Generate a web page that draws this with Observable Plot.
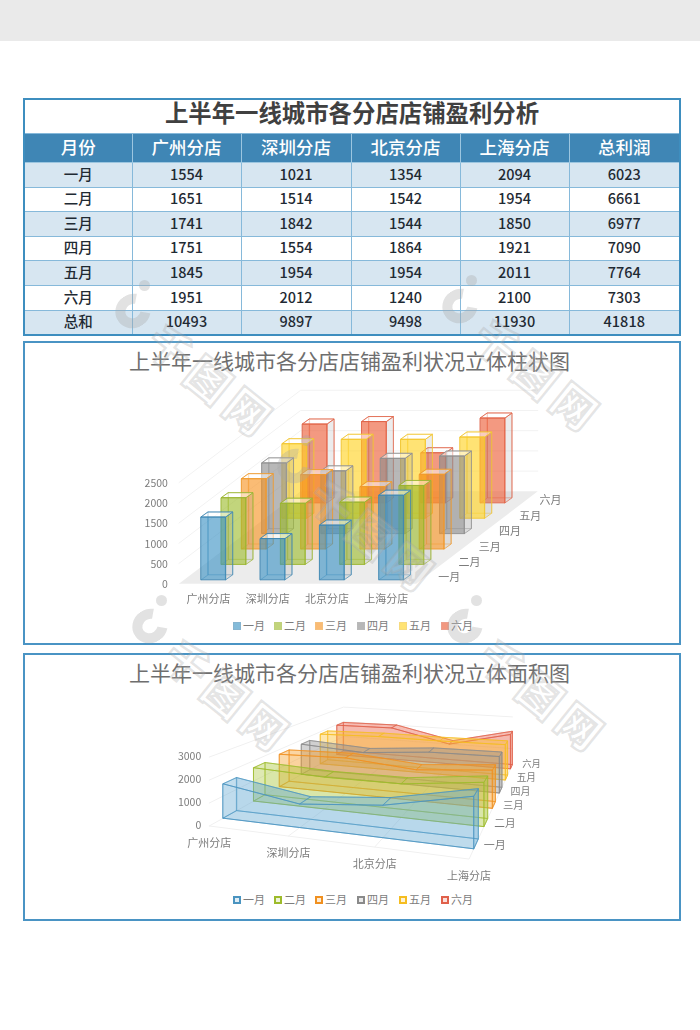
<!DOCTYPE html>
<html lang="zh">
<head>
<meta charset="utf-8">
<script src="https://cdn.jsdelivr.net/npm/d3@7"></script>
<script src="https://cdn.jsdelivr.net/npm/@observablehq/plot@0.6"></script>
<style>
html,body{margin:0;padding:0;background:#fff;}
body{width:700px;height:1030px;position:relative;overflow:hidden;font-family:"Noto Sans CJK SC","Noto Sans",sans-serif;}
#band{position:absolute;left:0;top:0;width:700px;height:41px;background:#eaeaea;}
#table{position:absolute;left:23px;top:98px;width:656px;border-collapse:collapse;table-layout:fixed;border:2px solid #3e8ebf;}
#table td,#table th{border:1px solid #86b9da;padding:0;text-align:center;line-height:1;font-size:14.5px;font-weight:500;color:#1f2a33;}
#table .ttl{height:25px;padding-bottom:8px;font-size:23.4px;font-weight:700;color:#404040;background:#fff;}
#table .hd th{height:25px;padding-bottom:3px;background:#3f86b5;color:#fff;font-size:17.5px;font-weight:500;border-color:#9cc6e0;border-top:none;}
#table tr.row td{height:21.6px;padding-bottom:2px;}
#table tr.odd td{background:#d7e6f1;}
.panel{position:absolute;left:23px;width:658px;box-sizing:border-box;border:2px solid #4a94c4;}
.ctitle{position:absolute;left:21px;width:657px;text-align:center;font-size:21px;line-height:1;font-weight:400;color:#6e6e6e;}
.plotbox{position:absolute;left:23px;}
.plotbox svg{display:block;background:transparent;filter:blur(.35px);}
.legend span.it{position:absolute;font-size:11px;line-height:1;color:#7c7c7c;padding-left:10px;white-space:nowrap;}
.legend i{position:absolute;left:0;top:1.5px;width:8px;height:8px;box-sizing:border-box;}
.wm{position:absolute;pointer-events:none;}
.wm .t{position:absolute;left:-95px;top:-32px;width:190px;height:64px;line-height:64px;text-align:center;font-size:43px;font-weight:900;letter-spacing:7px;color:rgba(255,255,255,.1);-webkit-text-stroke:2.4px rgba(165,165,165,.3);transform:rotate(39deg);}
.wm .r{position:absolute;left:-18px;top:-16px;width:36px;height:34px;box-sizing:border-box;border:10px solid rgba(165,165,165,.32);border-right-color:transparent;border-radius:50%;transform:rotate(-35deg);}
.wm .d{position:absolute;left:6px;top:-30px;width:11px;height:11px;border-radius:50%;background:rgba(165,165,165,.32);}
</style>
</head>
<body>
<div id="band"></div>
<div id="tbl"></div>
<div class="panel" style="top:341px;height:304px"></div>
<div class="ctitle" style="top:350px">上半年一线城市各分店店铺盈利状况立体柱状图</div>
<div class="plotbox" id="bars" style="top:341px"></div>
<div class="legend" id="leg1"></div>
<div class="panel" style="top:653px;height:268px"></div>
<div class="ctitle" style="top:662px">上半年一线城市各分店店铺盈利状况立体面积图</div>
<div class="plotbox" id="areas" style="top:653px"></div>
<div class="legend" id="leg2"></div>
<div id="marks"></div>
<script>
// ---------- data ----------
const pageTitle = "上半年一线城市各分店店铺盈利分析";
const months = ["一月","二月","三月","四月","五月","六月"];
const stores = ["广州分店","深圳分店","北京分店","上海分店"];
const guangzhou = [1554,1651,1741,1751,1845,1951];
const shenzhen  = [1021,1514,1842,1554,1954,2012];
const beijing   = [1354,1542,1544,1864,1954,1240];
const shanghai  = [2094,1954,1850,1921,2011,2100];
const monthTotal = [6023,6661,6977,7090,7764,7303];
const storeTotal = [10493,9897,9498,11930,41818];
const barTicks = [0,500,1000,1500,2000,2500];
const areaTicks = [0,1000,2000,3000];
const seriesColors = ["#3a92c3","#9dbb2b","#f79320","#8c8c8c","#ffd21e","#eb5a33"];
const seriesStrokes = ["#3f87b3","#9ab52f","#ef9a2e","#8f8f8f","#f2c530","#e0654a"];
const areaColors = ["#5da5d0","#a9c63a","#f59a23","#8f8f8f","#fbc02d","#e8604a"];
const areaStrokes = ["#4a94c0","#9dbb2b","#f09020","#8a8a8a","#f5bd20","#e0604a"];
const columns = [guangzhou,shenzhen,beijing,shanghai];
const val = (i,j) => columns[i][j];

// ---------- table ----------
{
  let h = `<table id="table"><colgroup>${[108,109,110,109,109,111].map(w=>`<col style="width:${w}px">`).join("")}</colgroup>`;
  h += `<tr><td class="ttl" colspan="6">${pageTitle}</td></tr>`;
  h += `<tr class="hd"><th>月份</th>${stores.map(s=>`<th>${s}</th>`).join("")}<th>总利润</th></tr>`;
  months.forEach((m,j)=>{
    h += `<tr class="row ${j%2?"":"odd"}"><td>${m}</td>${stores.map((_,i)=>`<td>${val(i,j)}</td>`).join("")}<td>${monthTotal[j]}</td></tr>`;
  });
  h += `<tr class="row odd"><td>总和</td>${storeTotal.map(v=>`<td>${v}</td>`).join("")}</tr></table>`;
  document.getElementById("tbl").innerHTML = h;
}

// ---------- chart 1: oblique bars ----------
{
  const W=657,H=304;
  // oblique axes, in units of (category, value)
  const stepX=.342, stepY=381, depX=.118, depY=124, barW=.413;
  const X=(i,j,d=0)=>i+stepX*j+depX*d;
  const Y=(v,j,d=0)=>v+stepY*j+depY*d;
  const poly=(rows,o)=>Plot.line(rows,{x:"x",y:"y",z:"id",curve:"linear-closed",...o});
  const quad=(id,pts)=>pts.map(([x,y])=>({id,x,y}));
  const i0=-.29,i1=3.71,j0=-.25,j1=5.75;
  const marks=[];
  marks.push(poly(quad("floor",[[X(i0,j0),Y(0,j0)],[X(i1,j0),Y(0,j0)],[X(i1,j1),Y(0,j1)],[X(i0,j1),Y(0,j1)]]),{fill:"#ececec",stroke:"none"}));
  const wall=barTicks.slice(1).flatMap(v=>[
    {id:"l"+v,x:X(i0,j0),y:Y(v,j0)},{id:"l"+v,x:X(i0,j1),y:Y(v,j1)},{id:"l"+v,x:X(i1,j1),y:Y(v,j1)}
  ]);
  marks.push(Plot.line(wall,{x:"x",y:"y",z:"id",stroke:"#f2f2f2",strokeWidth:1}));
  for(let j=months.length-1;j>=0;j--){
    const back=[],side=[],top=[],front=[];
    stores.forEach((_,i)=>{
      const v=val(i,j),a=i,b=i+barW,id=i+"-"+j;
      back.push(...quad(id+"b",[[X(a,j,1),Y(0,j,1)],[X(b,j,1),Y(0,j,1)],[X(b,j,1),Y(v,j,1)],[X(a,j,1),Y(v,j,1)]]));
      back.push(...quad(id+"l",[[X(a,j,0),Y(0,j,0)],[X(a,j,1),Y(0,j,1)],[X(a,j,1),Y(v,j,1)],[X(a,j,0),Y(v,j,0)]]));
      side.push(...quad(id+"s",[[X(b,j,0),Y(0,j,0)],[X(b,j,1),Y(0,j,1)],[X(b,j,1),Y(v,j,1)],[X(b,j,0),Y(v,j,0)]]));
      top.push(...quad(id+"t",[[X(a,j,0),Y(v,j,0)],[X(b,j,0),Y(v,j,0)],[X(b,j,1),Y(v,j,1)],[X(a,j,1),Y(v,j,1)]]));
      front.push(...quad(id+"f",[[X(a,j,0),Y(0,j,0)],[X(b,j,0),Y(0,j,0)],[X(b,j,0),Y(v,j,0)],[X(a,j,0),Y(v,j,0)]]));
    });
    const c=seriesColors[j],s=seriesStrokes[j];
    marks.push(poly(back,{fill:"none",stroke:s,strokeOpacity:.45,strokeWidth:1}));
    marks.push(poly(side,{fill:"#8d8d8d",fillOpacity:.17,stroke:s,strokeOpacity:.7,strokeWidth:1}));
    marks.push(poly(top,{fill:"#fff",fillOpacity:.5,stroke:s,strokeOpacity:.85,strokeWidth:1}));
    marks.push(poly(front,{fill:c,fillOpacity:.62,stroke:s,strokeOpacity:.9,strokeWidth:1}));
  }
  marks.push(Plot.text(barTicks,{x:()=>X(i0,j0),y:v=>Y(v,j0),text:d=>String(d),textAnchor:"end",dx:-11,dy:1,fill:"#7c7c7c",fontSize:10.5}));
  marks.push(Plot.text(stores,{x:(d,i)=>X(i+barW/2,j0),y:()=>Y(0,j0),text:d=>d,dy:16,fill:"#7c7c7c",fontSize:11}));
  marks.push(Plot.text(months,{x:(d,j)=>X(i1,j),y:(d,j)=>Y(0,j),text:d=>d,dx:28,dy:-2,fill:"#7c7c7c",fontSize:11}));
  const x0=177.7, ux=59.3, y0=238.3, uy=.0404;
  document.getElementById("bars").append(Plot.plot({
    width:W,height:H,margin:0,axis:null,
    x:{domain:[-x0/ux,(W-x0)/ux]},
    y:{domain:[(y0-H)/uy,y0/uy]},
    style:{background:"transparent",fontFamily:'"Noto Sans CJK SC","Noto Sans",sans-serif'},
    marks
  }));
}

// ---------- chart 2: perspective ribbons ----------
{
  const W=657,H=268;
  const c=[[199.7,164.7],[450.3,195.3],[487,115.3],[313.7,101]];
  const heightScale=.0221;
  const [[x0,y0],[x1,y1],[x2,y2],[x3,y3]]=c;
  const dx1=x1-x2,dx2=x3-x2,sx=x0-x1+x2-x3,dy1=y1-y2,dy2=y3-y2,sy=y0-y1+y2-y3;
  const den=dx1*dy2-dx2*dy1;
  const g=(sx*dy2-dx2*sy)/den,h=(dx1*sy-sx*dy1)/den;
  const a=x1-x0+g*x1,b=x3-x0+h*x3,d=y1-y0+g*y1,e=y3-y0+h*y3;
  const project=(i,j,v=0)=>{
    const s=i/(stores.length-1),t=j/(months.length-1),w=g*s+h*t+1;
    return {x:(a*s+b*t+x0)/w,y:(d*s+e*t+y0)/w-heightScale*v/w};
  };
  const poly=(rows,o)=>Plot.line(rows,{x:"x",y:"y",z:"id",curve:"linear-closed",...o});
  const P=(id,i,j,v)=>({id,...project(i,j,v)});
  const thick=.42, n=stores.length;
  const idx=d3.range(n);
  const j0=-.4,j1=5.42;
  const marks=[];
  const wall=[...areaTicks.flatMap(v=>[P("w"+v,0,j0,v),P("w"+v,0,j1,v),P("w"+v,n-1,j1,v)]),
    P("f0",0,j0,0),P("f0",n-1,j0,0),P("f0",n-1,j1,0),
    ...d3.range(1,n-1).flatMap(i=>[P("g"+i,i,j0,0),P("g"+i,i,j1,0)])];
  marks.push(Plot.line(wall,{x:"x",y:"y",z:"id",stroke:"#f0f0f0",strokeWidth:1}));
  for(let j=months.length-1;j>=0;j--){
    const col=areaColors[j],st=areaStrokes[j],j2=j+thick;
    const wallF=jj=>[...idx.map(i=>P("f"+jj,i,jj,val(i,j))),...idx.slice().reverse().map(i=>P("f"+jj,i,jj,0))];
    const base=[P("b",0,j,0),P("b",n-1,j,0),P("b",n-1,j2,0),P("b",0,j2,0)];
    const endL=[P("l",0,j,0),P("l",0,j2,0),P("l",0,j2,val(0,j)),P("l",0,j,val(0,j))];
    const endR=[P("r",n-1,j,0),P("r",n-1,j2,0),P("r",n-1,j2,val(n-1,j)),P("r",n-1,j,val(n-1,j))];
    const top=d3.range(n-1).flatMap(i=>[P("t"+i,i,j,val(i,j)),P("t"+i,i+1,j,val(i+1,j)),P("t"+i,i+1,j2,val(i+1,j)),P("t"+i,i,j2,val(i,j))]);
    const o={fill:col,fillOpacity:.2,stroke:st,strokeOpacity:.6,strokeWidth:1};
    marks.push(poly(wallF(j2),o));
    marks.push(poly(base,{...o,fillOpacity:.14}));
    marks.push(poly(endL,{...o,fillOpacity:.12}));
    marks.push(poly(endR,{...o,fillOpacity:.42}));
    marks.push(poly(top,{...o,fillOpacity:.28}));
    marks.push(poly(wallF(j),{...o,fillOpacity:.3,strokeOpacity:.8}));
  }
  marks.push(Plot.text(areaTicks,{x:()=>project(0,j0).x,y:v=>project(0,j0,v).y,text:d=>String(d),textAnchor:"end",dx:-8,fill:"#7c7c7c",fontSize:10.5}));
  marks.push(Plot.text(stores,{x:(s,i)=>project(i,j0).x,y:(s,i)=>project(i,j0).y,text:s=>s,dy:17,fill:"#7c7c7c",fontSize:11}));
  const labelNudge=j=>j===5?-2:j===3?1.5:j===4?.5:0;
  marks.push(Plot.text(months,{x:(m,j)=>project(n-1,j).x,y:(m,j)=>project(n-1,j).y+labelNudge(j),text:m=>m,dx:21,dy:-3,fill:"#7c7c7c",fontSize:(m,j)=>11-.33*j}));
  document.getElementById("areas").append(Plot.plot({
    width:W,height:H,margin:0,axis:null,
    x:{domain:[0,W]},y:{domain:[H,0]},
    style:{background:"transparent",fontFamily:'"Noto Sans CJK SC","Noto Sans",sans-serif'},
    marks
  }));
}

// ---------- legends ----------
function legend(id,top,kind){
  const xs=[233,274,315,357,399,441];
  document.getElementById(id).innerHTML=months.map((m,j)=>{
    const sw=kind==="solid"
      ?`background:${seriesColors[j]};opacity:.62;border:1px solid ${seriesStrokes[j]}`
      :`background:${areaColors[j]}33;border:2px solid ${areaStrokes[j]}`;
    return `<span class="it" style="left:${xs[j]}px;top:${top}px"><i style="${sw}"></i>${m}</span>`;
  }).join("");
}
legend("leg1",620,"solid");
legend("leg2",894,"outline");

// ---------- watermark ----------
const wmAnchors=[[133,310],[460,305],[295,465],[150,625],[465,625]];
document.getElementById("marks").innerHTML=wmAnchors.map(([x,y])=>
  `<div class="wm" style="left:${x}px;top:${y}px"><div class="r"></div><div class="d"></div></div>`+
  `<div class="wm" style="left:${x+80}px;top:${y+70}px"><div class="t">千图网</div></div>`
).join("");
</script>
</body>
</html>
